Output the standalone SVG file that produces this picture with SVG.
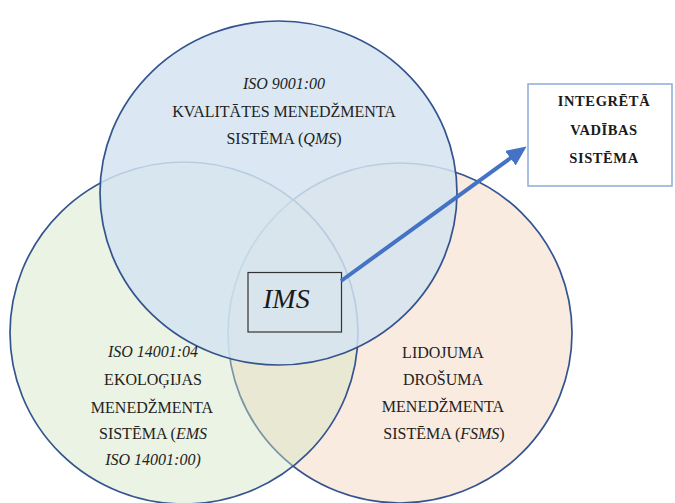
<svg xmlns="http://www.w3.org/2000/svg" width="675" height="503" viewBox="0 0 675 503">
<defs>
<style>
.ring{stroke:#34548f;stroke-width:1.7}
.t{font-family:"Liberation Serif","Times New Roman",serif;font-size:16px;fill:#222;text-anchor:middle}
.i{font-style:italic}
.b{font-family:"Liberation Serif","Times New Roman",serif;font-size:14.5px;font-weight:bold;fill:#1a1a1a;text-anchor:middle;letter-spacing:0.6px}
</style>
<marker id="ah" markerUnits="userSpaceOnUse" markerWidth="22" markerHeight="18" refX="2" refY="9" orient="auto">
<path d="M0,0 L20,9 L0,18 Z" fill="#4472c4"/>
</marker>
</defs>
<rect width="675" height="503" fill="#ffffff"/>
<g id="fsms">
<ellipse class="ring" cx="400" cy="333" rx="172" ry="170" fill="#f9ebe0"/>
</g>
<g id="ems">
<ellipse class="ring" cx="184" cy="333" rx="174" ry="171" fill="#d2e4c3" fill-opacity="0.45"/>
</g>
<g id="qms">
<ellipse class="ring" cx="278.5" cy="193" rx="178.5" ry="172" fill="#d4e3f1" fill-opacity="0.84"/>
</g>
<g id="qms-text">
<text class="t i" x="284" y="89">ISO 9001:00</text>
<text class="t" x="284" y="117">KVALITĀTES MENEDŽMENTA</text>
<text class="t" x="284" y="144">SISTĒMA (<tspan class="i">QMS</tspan>)</text>
</g>
<g id="ems-text">
<text class="t i" x="153" y="357">ISO 14001:04</text>
<text class="t" x="153" y="385">EKOLOĢIJAS</text>
<text class="t" x="152" y="413">MENEDŽMENTA</text>
<text class="t" x="153" y="439">SISTĒMA (<tspan class="i">EMS</tspan></text>
<text class="t i" x="153" y="465">ISO 14001:00)</text>
</g>
<g id="fsms-text">
<text class="t" x="443" y="358">LIDOJUMA</text>
<text class="t" x="443" y="385">DROŠUMA</text>
<text class="t" x="443" y="412">MENEDŽMENTA</text>
<text class="t" x="444" y="439">SISTĒMA (<tspan class="i">FSMS</tspan>)</text>
</g>
<g id="ims">
<rect x="248" y="272.5" width="93.5" height="59.5" fill="none" stroke="#333" stroke-width="1.2"/>
<text x="263" y="308" font-family="'Liberation Serif','Times New Roman',serif" font-style="italic" font-size="28" fill="#1a1a1a">IMS</text>
</g>
<g id="integreta">
<rect x="528" y="84" width="144" height="102" fill="#ffffff" stroke="#8eaad8" stroke-width="1.5"/>
<text class="b" x="604" y="106">INTEGRĒTĀ</text>
<text class="b" x="604" y="135">VADĪBAS</text>
<text class="b" x="604" y="163">SISTĒMA</text>
</g>
<g id="connectors">
<line x1="341" y1="281" x2="512" y2="157" stroke="#4472c4" stroke-width="4" marker-end="url(#ah)"/>
</g>
</svg>
